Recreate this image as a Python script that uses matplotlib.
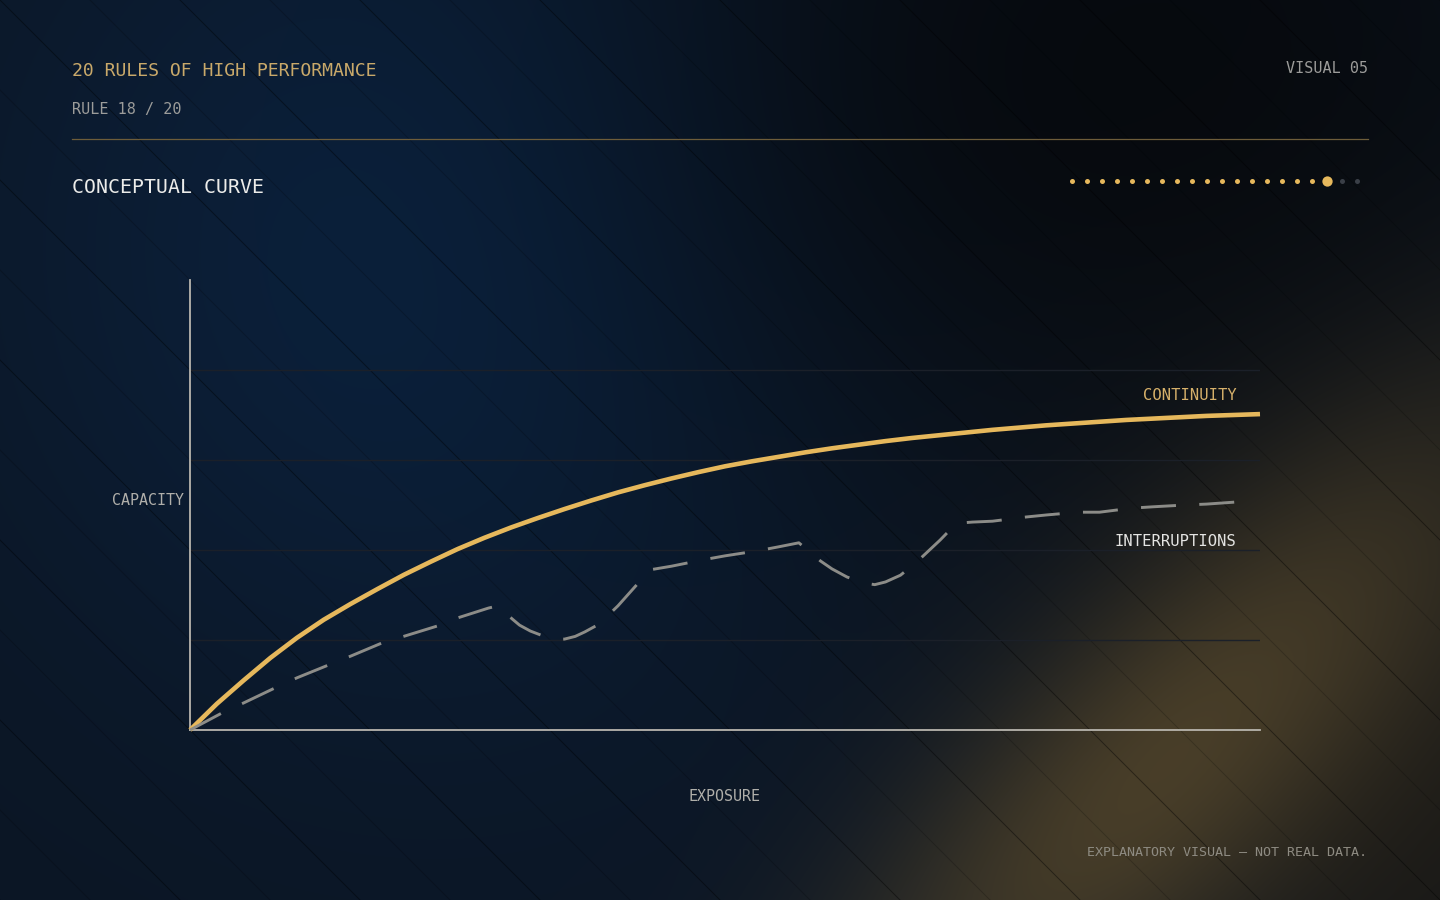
import numpy as np
import matplotlib.pyplot as plt

W, H = 1440, 900

# --- data (0-100 scale) ---
exposure = [0, 2.5, 5, 7.5, 10, 12.5, 15, 17.5, 20, 22.5, 25, 27.5, 30, 32.5, 35,
            37.5, 40, 42.5, 45, 47.5, 50, 52.5, 55, 57.5, 60, 62.5, 65, 67.5, 70,
            72.5, 75, 77.5, 80, 82.5, 85, 87.5, 90, 92.5, 95, 97.5, 100]
continuity = [0, 5.8, 11.0, 16.0, 20.5, 24.5, 28.0, 31.3, 34.5, 37.4, 40.2, 42.7, 45.0,
              47.1, 49.1, 51.0, 52.8, 54.4, 55.9, 57.3, 58.6, 59.7, 60.7, 61.7, 62.6,
              63.4, 64.2, 64.9, 65.5, 66.1, 66.7, 67.2, 67.7, 68.1, 68.5, 68.9, 69.2,
              69.5, 69.8, 70.0, 70.2]

interrupt_x = [0, 3, 5, 7.9, 10, 12.9, 15, 17.9, 20.1, 23.1, 25, 27.9, 28.8,
               30.1, 30.8, 31.8, 33.0, 34.1, 35.0, 36.0, 36.9, 37.9, 39.0, 40.0,
               41.5, 43.0, 45, 47.9, 50, 53, 55, 56.9,
               57.9, 58.9, 60.0, 61.4, 62.9, 64.0, 65.0, 66.4, 67.9, 70.1, 71.0,
               72.0, 73.1, 75, 78, 80.1, 83, 85, 88, 90, 93, 95, 98]
interrupt_y = [0, 3.8, 6.0, 9.3, 11.6, 14.4, 16.4, 19.3, 20.9, 23.1, 24.9, 27.1, 27.6,
               24.7, 23.3, 22.0, 20.9, 20.2, 20.2, 20.8, 21.8, 23.1, 25.3, 27.6,
               31.6, 35.6, 36.4, 37.8, 38.7, 39.8, 40.7, 41.6,
               39.6, 37.6, 35.8, 34.0, 32.7, 32.3, 32.9, 34.4, 37.3, 42.2, 44.4,
               46.0, 46.2, 46.4, 47.3, 47.8, 48.4, 48.4, 49.3, 49.6, 50.0, 50.2, 50.7]

grid_levels = [20, 40, 60, 80]
n_rules = 20
current_rule = 18

GOLD = '#E6B85C'
MONO = 'DejaVu Sans Mono'

# --- background ---
Y, X = np.mgrid[0:H, 0:W].astype(float)
img = np.ones((H, W, 3)) * np.array([12, 22, 36]) / 255


def glow(img, g, color):
    g = g[..., None]
    return img * (1 - g) + np.array(color) / 255 * g


img = glow(img, 0.9 * np.exp(-0.5 * (((X - 470) / 320) ** 2 + ((Y - 240) / 320) ** 2)), (11, 36, 67))
img = glow(img, 0.95 * np.exp(-0.5 * (((X - 1150) / 380) ** 2 + ((Y - 80) / 330) ** 2)), (6, 9, 13))
img = glow(img, 0.9 * np.exp(-0.5 * (((X - 1440) / 260) ** 2 + ((Y - 820) / 300) ** 2)), (28, 26, 22))
U = (X + Y) / np.sqrt(2)
V = (X - Y) / np.sqrt(2)
img = glow(img, 0.9 * np.exp(-0.5 * (((U - 1930 / np.sqrt(2)) / 110) ** 2
                                     + ((V - 400 / np.sqrt(2)) / 330) ** 2)), (78, 66, 42))

fig = plt.figure(figsize=(14.4, 9), dpi=100)
bg = fig.add_axes([0, 0, 1, 1])
bg.imshow(img, extent=(0, W, H, 0), aspect='auto', interpolation='bilinear')
bg.set_xlim(0, W)
bg.set_ylim(H, 0)
bg.axis('off')

# diagonal hatch
for k in range(-11, 18):
    c = 90 * k
    bg.plot([c, c + H], [0, H], color='black', lw=0.7,
            alpha=0.42 if k % 2 == 0 else 0.2, zorder=1)

# header
bg.text(72, 76, '20 RULES OF HIGH PERFORMANCE', family=MONO, fontsize=13.1,
        color='#C9A96A', va='baseline', ha='left')
bg.text(72, 114, 'RULE 18 / 20', family=MONO, fontsize=10.9,
        color='#9c9c9a', va='baseline', ha='left')
bg.text(1368, 73, 'VISUAL 05', family=MONO, fontsize=10.9,
        color='#9c9c9a', va='baseline', ha='right')
bg.plot([72, 1368], [139, 139], color='#6e5d3a', lw=0.9)
bg.text(72, 193, 'CONCEPTUAL CURVE', family=MONO, fontsize=14.3,
        color='#ececea', va='baseline', ha='left')

# progress dots
dot_x = 1072 + 15 * np.arange(n_rules)
for i, dx in enumerate(dot_x, start=1):
    if i == current_rule:
        bg.scatter(dx, 181, s=55, color=GOLD, lw=0, zorder=3)
    elif i < current_rule:
        bg.scatter(dx, 181, s=13, color=GOLD, lw=0, zorder=3)
    else:
        bg.scatter(dx, 181, s=13, color='#3a3f47', lw=0, zorder=3)

# axis labels / footer
bg.text(184, 505, 'CAPACITY', family=MONO, fontsize=10.8,
        color='#b0afaa', va='baseline', ha='right')
bg.text(725, 801, 'EXPOSURE', family=MONO, fontsize=10.8,
        color='#b0afaa', va='baseline', ha='center')
bg.text(1367, 856, 'EXPLANATORY VISUAL \u2014 NOT REAL DATA.', family=MONO,
        fontsize=9.6, color='#8e8b82', va='baseline', ha='right')

# --- chart ---
ax = fig.add_axes([190 / W, (H - 730) / H, 1070 / W, 450 / H])
ax.patch.set_alpha(0)
ax.set_xlim(0, 100)
ax.set_ylim(0, 100)
for s in ['top', 'right']:
    ax.spines[s].set_visible(False)
for s in ['left', 'bottom']:
    ax.spines[s].set_color('#b8b5ae')
    ax.spines[s].set_linewidth(1.3)
ax.set_xticks([])
ax.set_yticks(grid_levels)
ax.tick_params(axis='y', length=0, labelleft=False)
ax.yaxis.grid(True, color='#1b2029', lw=1)
ax.set_axisbelow(True)

ax.plot(exposure, continuity, color=GOLD, lw=3.3, solid_capstyle='butt',
        solid_joinstyle='round', clip_on=False, zorder=3)
line, = ax.plot(interrupt_x, interrupt_y, color='#8c8c88', lw=2.1,
                clip_on=False, zorder=4, dash_capstyle='butt', dash_joinstyle='round')
line.set_dashes((12, 8))

ax.text(97.8, 70.2 + 4.2, 'CONTINUITY', family=MONO, fontsize=11.2,
        color='#D6B06A', ha='right', va='center')
ax.text(97.8, 42.0, 'INTERRUPTIONS', family=MONO, fontsize=11.2,
        color='#e4e4e2', ha='right', va='center')

fig.savefig('out.png', dpi=100)
